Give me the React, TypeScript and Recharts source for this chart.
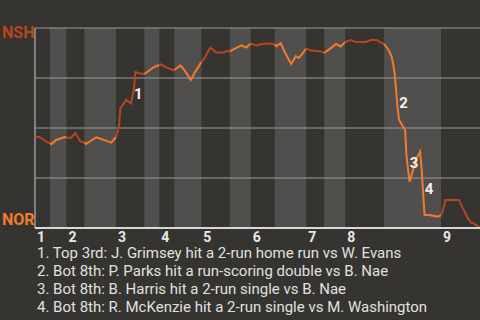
import { LineChart, Line, XAxis, YAxis, ReferenceArea, ReferenceLine, ReferenceDot } from "recharts";

// x = pitch number in the game, y = NSH win probability (%)
const pitch = [
  0, 3, 8, 10, 11, 14, 20, 21, 24, 27, 30, 33, 34, 38, 41, 45, 51, 54, 56, 57,
  61, 64, 66, 67, 70, 73, 79, 83, 84, 88, 92, 93, 97, 100, 104, 107, 111, 113, 117, 121,
  126, 128, 130, 135, 138, 141, 144, 148, 151, 157, 160, 161, 164, 167, 171, 174, 176, 178, 181, 184,
  191, 193, 197, 201, 204, 207, 211, 214, 221, 224, 228, 231, 233, 236, 238, 239, 240, 241, 242, 243,
  245, 247, 248, 249, 250, 251, 253, 254, 257, 258, 259, 260, 263, 269, 271, 272, 274, 283, 285, 289,
  291, 293, 297,
];
const nshWinPct = [
  45.5, 45.5, 43, 42.3, 42, 44, 45.5, 45.2, 45, 47.5, 43.5, 42.7, 42, 44, 45.3, 44.3, 42.7, 45.5, 50.5, 60,
  64, 62.3, 69, 78, 77.3, 77, 80.3, 81.5, 81.8, 80.2, 79, 79, 81.3, 78.7, 74, 78.2, 82.8, 84.8, 90.2, 87.7,
  87.7, 88.5, 88.3, 90.3, 91.3, 90.2, 92.2, 91.3, 92, 92.2, 91.8, 90.8, 92.5, 87.5, 82, 85.8, 85, 86.7, 89.7, 88.7,
  88.3, 87.5, 89.7, 92, 90.8, 93, 94, 93, 93, 94, 94, 92.7, 92, 89, 85.7, 82.3, 77.3, 69, 60, 54,
  51.5, 49, 35.7, 29, 23.2, 25.7, 30.7, 34, 38.2, 30, 18, 6.5, 6.5, 5.7, 6.5, 8.2, 14, 14, 10.7, 4.8,
  2.7, 2.3, 0,
];

// first pitch of each half inning (top 1st ... top 9th), last entry = end of game
const halfInningStarts = [0, 10, 21, 33, 54, 73, 83, 93, 111, 130, 144, 160, 181, 193, 207, 233, 271, 297];
const innings = ["1", "2", "3", "4", "5", "6", "7", "8", "9"];

const markerIds = ["1", "2", "3", "4"];
const markerPitch = [69, 246, 253, 263];
const markerPct = [67, 62.7, 32.7, 19.5];

const keyPlays = [
  "1. Top 3rd: J. Grimsey hit a 2-run home run vs W. Evans",
  "2. Bot 8th: P. Parks hit a run-scoring double vs B. Nae",
  "3. Bot 8th: B. Harris hit a 2-run single vs B. Nae",
  "4. Bot 8th: R. McKenzie hit a 2-run single vs M. Washington",
];

const BG = "#363431";
const BAND = "#504f4d";
const AWAY = "#b5461f";
const HOME = "#f37b2b";

const points = pitch.map((p, i) => ({ pitch: p, pct: nshWinPct[i] }));
const halves = halfInningStarts.slice(0, -1).map((start, i) => ({
  start,
  end: halfInningStarts[i + 1],
  bottom: i % 2 === 1,
}));
const inningTicks = halves.filter((h) => !h.bottom).map((h) => h.start);

function InningTick({ x, y, index }: any) {
  return (
    <text x={x + 2} y={y} dy="0.71em" fill="#e8e8e8" fontSize={14} fontWeight="bold" fontFamily="Roboto">
      {innings[index]}
    </text>
  );
}

export default function App() {
  return (
    <div
      style={{
        position: "fixed",
        left: 0,
        top: 0,
        width: 480,
        height: 320,
        background: BG,
        fontFamily: "Roboto",
        overflow: "hidden",
      }}
    >
      <LineChart width={480} height={250} margin={{ top: 28, right: 0, bottom: 0, left: 35 }}>
        <XAxis
          dataKey="pitch"
          type="number"
          domain={[0, 297]}
          ticks={inningTicks}
          tick={<InningTick />}
          tickLine={false}
          tickSize={0}
          tickMargin={4}
          height={22}
          axisLine={{ stroke: "#d8d8d8", strokeWidth: 2 }}
        />
        <YAxis type="number" domain={[0, 100]} hide />
        {halves
          .filter((h) => h.bottom)
          .map((h) => (
            <ReferenceArea key={h.start} x1={h.start} x2={h.end} fill={BAND} fillOpacity={1} stroke="none" />
          ))}
        {[25, 50, 75, 100].map((v) => (
          <ReferenceLine key={v} y={v} stroke="#9d9b98" strokeWidth={1} />
        ))}
        <ReferenceLine x={0} stroke="#c8c8c8" strokeWidth={1} />
        {halves.map((h) => (
          <Line
            key={h.start}
            data={points.filter((d) => d.pitch >= h.start && d.pitch <= h.end)}
            dataKey="pct"
            type="linear"
            stroke={h.bottom ? HOME : AWAY}
            strokeWidth={2}
            dot={false}
            activeDot={false}
            isAnimationActive={false}
          />
        ))}
        {markerIds.map((id, i) => (
          <ReferenceDot
            key={id}
            x={markerPitch[i]}
            y={markerPct[i]}
            r={0}
            stroke="none"
            label={{ value: id, position: "center", fill: "#f2f2f2", fontSize: 15, fontWeight: "bold" }}
          />
        ))}
      </LineChart>
      <div style={{ position: "absolute", left: 2, top: 25, color: AWAY, fontWeight: "bold", fontSize: 16, lineHeight: "16px" }}>
        NSH
      </div>
      <div style={{ position: "absolute", left: 2, top: 212, color: HOME, fontWeight: "bold", fontSize: 16, lineHeight: "16px" }}>
        NOR
      </div>
      <div style={{ position: "absolute", left: 37, top: 244, color: "#e0e0e0", fontSize: 15, lineHeight: "18px" }}>
        {keyPlays.map((t) => (
          <div key={t}>{t}</div>
        ))}
      </div>
    </div>
  );
}
